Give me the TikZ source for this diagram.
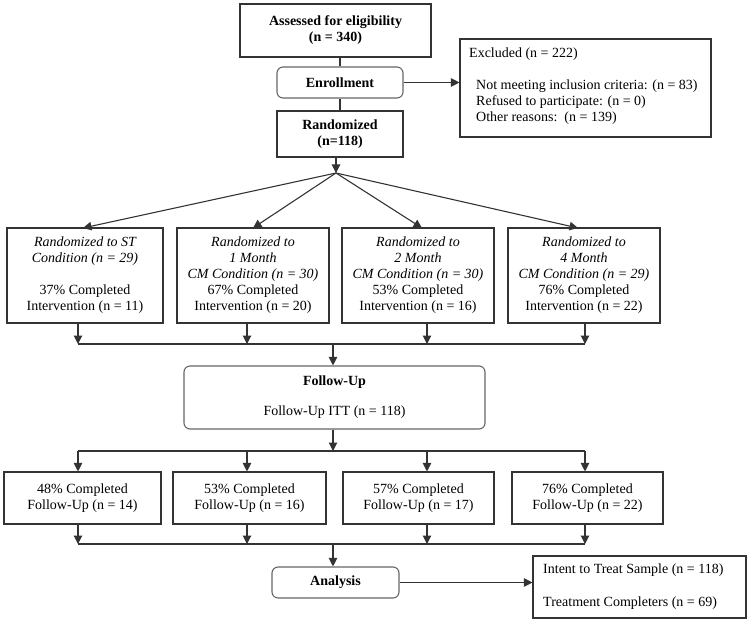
\documentclass[tikz,border=0pt]{standalone}
\usepackage{fontspec}
\setmainfont{Liberation Serif}
\usetikzlibrary{arrows.meta,calc}
\definecolor{ln}{HTML}{333333}
\definecolor{rb}{HTML}{666666}
\tikzset{
  box/.style={draw=ln, line width=1.1pt, inner sep=0pt, align=center, font=\fontsize{14}{16}\selectfont},
  rbox/.style={draw=rb, line width=1.1pt, rounded corners=6pt, inner sep=0pt, align=center, font=\fontsize{14}{16}\selectfont},
  txt/.style={inner sep=0pt, align=left, font=\fontsize{14}{16}\selectfont},
  conn/.style={draw=ln, line width=1.1pt},
  arr/.style={conn, -{Triangle[width=8.5pt,length=8.5pt]}},
}
\begin{document}
\begin{tikzpicture}[x=1pt,y=-1pt]
\useasboundingbox (0,0) rectangle (750,623);
% top
\node[box, minimum width=191, minimum height=53] (assess) at (335.5,30.5) {\bfseries Assessed for eligibility\\\bfseries (n = 340)};
\node[rbox, minimum width=126, minimum height=31] (enroll) at (340,82.5) {\bfseries Enrollment};
\node[box, minimum width=126, minimum height=46] (rand) at (340,134) {\bfseries Randomized\\\bfseries (n=118)};
\node[box, minimum width=251, minimum height=98] (excl) at (585.5,88) {};
\node[txt, anchor=north west] (excltxt) at (469,48) {Excluded (n = 222)\\[16pt]\hspace*{7pt}Not meeting inclusion criteria: (n = 83)\\\hspace*{7pt}Refused to participate: (n = 0)\\\hspace*{7pt}Other reasons:\ \ (n = 139)};
\coordinate (split) at (336,173);
% row 1
\node[box, minimum width=156, minimum height=95] (r1) at (85,275.5) {\itshape Randomized to ST\\\itshape Condition (n = 29)\\[16pt]37\% Completed\\Intervention (n = 11)};
\node[box, minimum width=152, minimum height=95] (r2) at (253,275.5) {\itshape Randomized to\\\itshape 1 Month\\\itshape CM Condition (n = 30)\\67\% Completed\\Intervention (n = 20)};
\node[box, minimum width=152, minimum height=95] (r3) at (418,275.5) {\itshape Randomized to\\\itshape 2 Month\\\itshape CM Condition (n = 30)\\53\% Completed\\Intervention (n = 16)};
\node[box, minimum width=152, minimum height=95] (r4) at (584,275.5) {\itshape Randomized to\\\itshape 4 Month\\\itshape CM Condition (n = 29)\\76\% Completed\\Intervention (n = 22)};
% follow-up
\node[rbox, minimum width=301, minimum height=63] (fu) at (334.5,397.5) {\bfseries Follow-Up\\[14pt]Follow-Up ITT (n = 118)};
\node[box, minimum width=157, minimum height=52] (f1) at (82.5,498) {48\% Completed\\Follow-Up (n = 14)};
\node[box, minimum width=153, minimum height=52] (f2) at (249.5,498) {53\% Completed\\Follow-Up (n = 16)};
\node[box, minimum width=151, minimum height=52] (f3) at (418.5,498) {57\% Completed\\Follow-Up (n = 17)};
\node[box, minimum width=151, minimum height=52] (f4) at (587.5,498) {76\% Completed\\Follow-Up (n = 22)};
% analysis
\node[rbox, minimum width=127, minimum height=31] (an) at (335.5,582.5) {\bfseries Analysis};
\node[box, minimum width=213, minimum height=62] (tr) at (639.5,587) {};
\node[txt, anchor=north west] (trtxt) at (543,564) {Intent to Treat Sample (n = 118)\\[17pt]Treatment Completers (n = 69)};
% bus coordinates
\coordinate (a1) at (78,344); \coordinate (a2) at (247,344); \coordinate (a3) at (427,344); \coordinate (a4) at (585,344); \coordinate (am) at (333,344);
\coordinate (b1) at (78,451); \coordinate (b2) at (247,451); \coordinate (b3) at (427,451); \coordinate (b4) at (585,451); \coordinate (bm) at (333,451);
\coordinate (c1) at (78,544); \coordinate (c2) at (247,544); \coordinate (c3) at (427,544); \coordinate (c4) at (585,544); \coordinate (cm) at (333,544);
\coordinate (t1) at (83,228); \coordinate (t2) at (253,228); \coordinate (t3) at (422,228); \coordinate (t4) at (578,228);
% connectors top
\draw[conn] (assess.south -| enroll) -- (enroll.north);
\draw[conn] (enroll.south) -- (rand.north);
\draw[arr] (rand.south -| split) -- (split);
\draw[arr] (enroll.east) -- (enroll.east -| excl.west);
\foreach \t in {t1,t2,t3,t4} \draw[arr] (split) -- (\t);
% row1 to bus a
\draw[arr] (r1.south -| a1) -- (a1);
\draw[arr] (r2.south -| a2) -- (a2);
\draw[arr] (r3.south -| a3) -- (a3);
\draw[arr] (r4.south -| a4) -- (a4);
\draw[conn] (a1) -- (a4);
\draw[arr] (am) -- (am |- fu.north);
% follow-up to bus b
\draw[arr] (fu.south -| bm) -- (bm);
\draw[conn] (b1) -- (b4);
\draw[arr] (b1) -- (b1 |- f1.north);
\draw[arr] (b2) -- (b2 |- f2.north);
\draw[arr] (b3) -- (b3 |- f3.north);
\draw[arr] (b4) -- (b4 |- f4.north);
% follow-up row to bus c
\draw[arr] (f1.south -| c1) -- (c1);
\draw[arr] (f2.south -| c2) -- (c2);
\draw[arr] (f3.south -| c3) -- (c3);
\draw[arr] (f4.south -| c4) -- (c4);
\draw[conn] (c1) -- (c4);
\draw[arr] (cm) -- (cm |- an.north);
\draw[arr] (an.east) -- (an.east -| tr.west);
\end{tikzpicture}
\end{document}
